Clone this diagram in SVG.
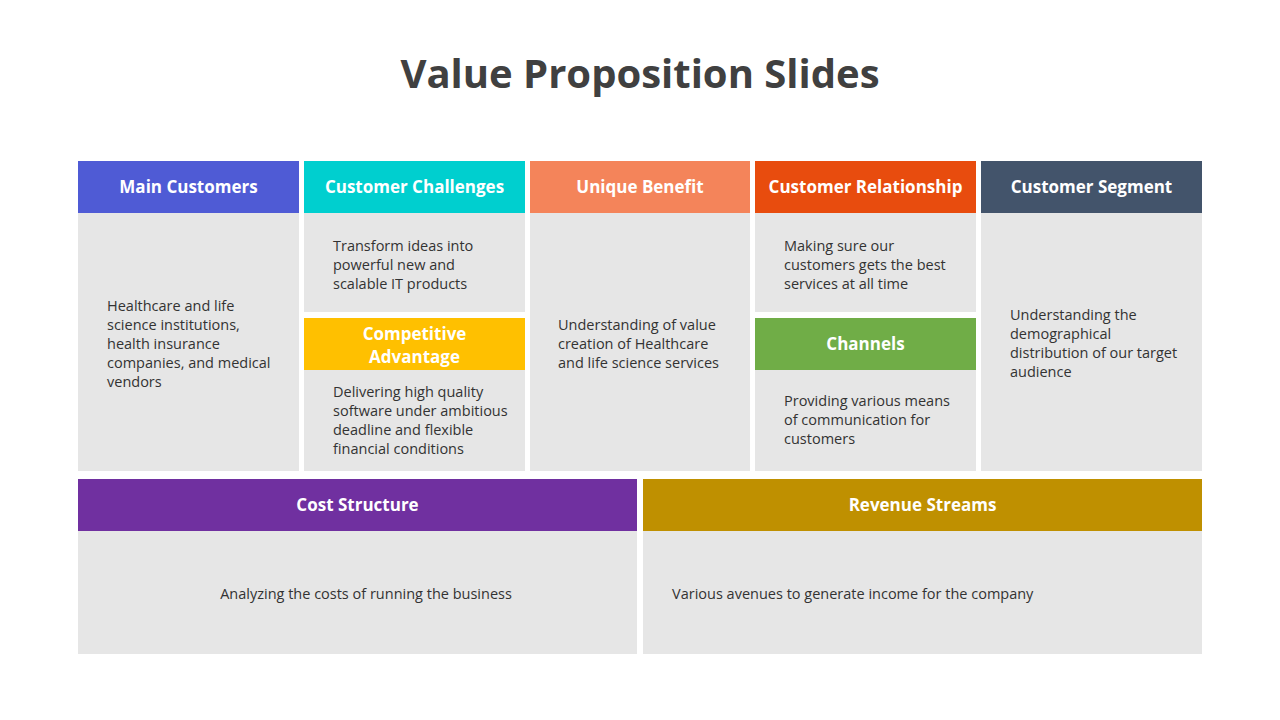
<svg xmlns="http://www.w3.org/2000/svg" width="1280" height="720" viewBox="0 0 1280 720">
<style>
.b{fill:#E6E6E6}
.h{font-family:"Open Sans","Noto Sans",sans-serif;font-weight:bold;font-size:17px;fill:#fff;text-anchor:middle}
.t{font-family:"Open Sans","Noto Sans",sans-serif;font-size:14.5px;fill:#333}
</style>
<rect width="1280" height="720" fill="#fff"/>
<text x="640" y="88" text-anchor="middle" font-family="'Open Sans','Noto Sans',sans-serif" font-weight="bold" font-size="40" fill="#404040">Value Proposition Slides</text>
<g id="main-customers">
<rect x="78" y="161" width="221" height="52" fill="#4F5BD5"/><text class="h" x="188.5" y="193">Main Customers</text>
<rect class="b" x="78" y="213" width="221" height="258"/>
<text class="t" x="107" y="311">Healthcare and life<tspan x="107" dy="19">science institutions,</tspan><tspan x="107" dy="19">health insurance</tspan><tspan x="107" dy="19">companies, and medical</tspan><tspan x="107" dy="19">vendors</tspan></text>
</g>
<g id="customer-challenges">
<rect x="304" y="161" width="221" height="52" fill="#00CFCF"/><text class="h" x="414.5" y="193">Customer Challenges</text>
<rect class="b" x="304" y="213" width="221" height="99"/>
<text class="t" x="333" y="251">Transform ideas into<tspan x="333" dy="19">powerful new and</tspan><tspan x="333" dy="19">scalable IT products</tspan></text>
</g>
<g id="competitive-advantage">
<rect x="304" y="318" width="221" height="52" fill="#FFC000"/><text class="h" x="414.5" y="340">Competitive<tspan x="414.5" dy="23">Advantage</tspan></text>
<rect class="b" x="304" y="370" width="221" height="101"/>
<text class="t" x="333" y="397">Delivering high quality<tspan x="333" dy="19">software under ambitious</tspan><tspan x="333" dy="19">deadline and flexible</tspan><tspan x="333" dy="19">financial conditions</tspan></text>
</g>
<g id="unique-benefit">
<rect x="530" y="161" width="220" height="52" fill="#F4845A"/><text class="h" x="640" y="193">Unique Benefit</text>
<rect class="b" x="530" y="213" width="220" height="258"/>
<text class="t" x="558" y="330">Understanding of value<tspan x="558" dy="19">creation of Healthcare</tspan><tspan x="558" dy="19">and life science services</tspan></text>
</g>
<g id="customer-relationship">
<rect x="755" y="161" width="221" height="52" fill="#E84C0E"/><text class="h" x="865.5" y="193">Customer Relationship</text>
<rect class="b" x="755" y="213" width="221" height="99"/>
<text class="t" x="784" y="251">Making sure our<tspan x="784" dy="19">customers gets the best</tspan><tspan x="784" dy="19">services at all time</tspan></text>
</g>
<g id="channels">
<rect x="755" y="318" width="221" height="52" fill="#70AD47"/><text class="h" x="865.5" y="350">Channels</text>
<rect class="b" x="755" y="370" width="221" height="101"/>
<text class="t" x="784" y="406">Providing various means<tspan x="784" dy="19">of communication for</tspan><tspan x="784" dy="19">customers</tspan></text>
</g>
<g id="customer-segment">
<rect x="981" y="161" width="221" height="52" fill="#43546B"/><text class="h" x="1091.5" y="193">Customer Segment</text>
<rect class="b" x="981" y="213" width="221" height="258"/>
<text class="t" x="1010" y="320">Understanding the<tspan x="1010" dy="19">demographical</tspan><tspan x="1010" dy="19">distribution of our target</tspan><tspan x="1010" dy="19">audience</tspan></text>
</g>
<g id="cost-structure">
<rect x="78" y="479" width="559" height="52" fill="#7030A0"/><text class="h" x="357.5" y="511">Cost Structure</text>
<rect class="b" x="78" y="531" width="559" height="123"/>
<text class="t" x="366" y="599" text-anchor="middle">Analyzing the costs of running the business</text>
</g>
<g id="revenue-streams">
<rect x="643" y="479" width="559" height="52" fill="#BF9000"/><text class="h" x="922.5" y="511">Revenue Streams</text>
<rect class="b" x="643" y="531" width="559" height="123"/>
<text class="t" x="672" y="599">Various avenues to generate income for the company</text>
</g>
<g id="connectors"/>
</svg>
